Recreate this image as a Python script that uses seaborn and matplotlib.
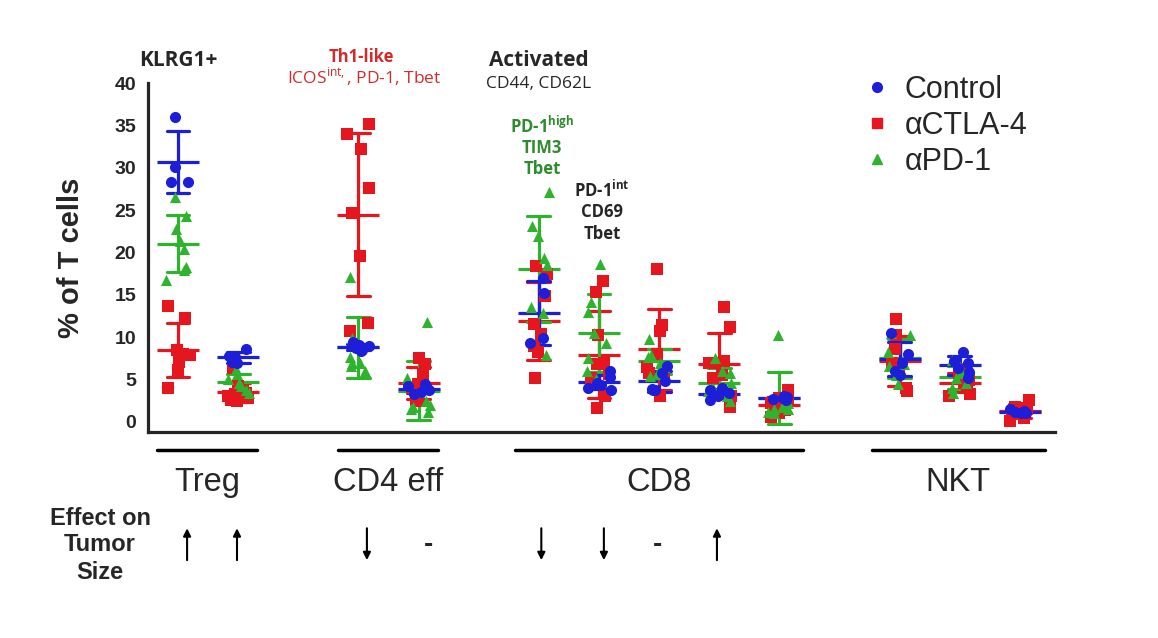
import numpy as np
import pandas as pd
import matplotlib
matplotlib.use("Agg")
import matplotlib.pyplot as plt
import matplotlib.transforms as mtransforms
from matplotlib.lines import Line2D
import seaborn as sns

# x axis columns, the gap columns stay empty
columns = ["Treg a", "Treg b", "gap1", "CD4 a", "CD4 b", "gap2",
           "CD8 a", "CD8 b", "CD8 c", "CD8 d", "CD8 e", "gap3",
           "NKT a", "NKT b", "NKT c"]

# % of T cells
control = {
    "Treg a": [36.0, 30.1, 28.3, 28.3],
    "Treg b": [8.6, 7.8, 7.7, 7.1, 7.0],
    "CD4 a": [9.4, 9.1, 9.0, 8.7, 8.5, 8.4],
    "CD4 b": [4.5, 4.2, 4.0, 3.8, 3.5, 3.3],
    "CD8 a": [17.0, 15.2, 9.9, 9.3],
    "CD8 b": [6.0, 5.3, 4.6, 4.4, 4.0, 3.8],
    "CD8 c": [6.6, 5.8, 4.8, 3.9, 3.8, 3.7],
    "CD8 d": [4.0, 3.7, 3.4, 3.2, 3.0, 2.6],
    "CD8 e": [3.0, 2.9, 2.8, 2.7, 2.6],
    "NKT a": [10.5, 8.0, 6.9, 6.0, 5.5],
    "NKT b": [8.3, 7.2, 7.0, 6.3, 5.9, 5.2],
    "NKT c": [1.5, 1.3, 1.2, 1.0, 1.0],
}
ctla4 = {
    "Treg a": [13.7, 12.3, 8.5, 8.0, 7.9, 7.1, 6.1, 4.0],
    "Treg b": [6.3, 4.2, 3.6, 3.4, 3.3, 3.1, 3.0, 2.8, 2.6, 2.4],
    "CD4 a": [35.2, 34.0, 32.2, 27.6, 24.7, 19.6, 11.7, 10.7],
    "CD4 b": [7.5, 6.8, 5.6, 4.5, 4.0, 3.4, 2.6, 2.5],
    "CD8 a": [18.4, 17.5, 14.9, 11.6, 10.4, 8.9, 8.3, 5.2],
    "CD8 b": [16.6, 15.3, 10.2, 7.0, 6.8, 5.6, 5.2, 3.1, 1.6],
    "CD8 c": [18.1, 11.4, 10.7, 8.0, 6.5, 5.8, 5.0, 3.0],
    "CD8 d": [13.6, 11.2, 7.2, 7.0, 6.9, 5.5, 5.2, 3.0, 1.8],
    "CD8 e": [3.8, 2.8, 2.5, 2.2, 2.0, 1.8, 1.4, 1.0, 0.6],
    "NKT a": [12.1, 10.2, 8.6, 7.0, 6.1, 5.8, 4.0, 3.6],
    "NKT b": [6.2, 5.8, 5.2, 4.9, 4.6, 4.0, 3.3, 3.0],
    "NKT c": [2.6, 1.8, 1.6, 1.5, 1.2, 0.9, 0.5, 0.1],
}
pd1 = {
    "Treg a": [26.5, 24.3, 22.8, 21.4, 20.4, 18.3, 17.9, 16.7],
    "Treg b": [6.2, 5.6, 5.0, 4.6, 4.2, 3.8, 3.4],
    "CD4 a": [17.1, 9.9, 9.0, 7.7, 7.0, 6.9, 6.6, 6.0],
    "CD4 b": [11.8, 5.2, 3.5, 2.5, 2.0, 1.8, 1.5, 1.2],
    "CD8 a": [27.1, 23.1, 21.9, 19.3, 18.5, 13.6, 12.8, 7.9],
    "CD8 b": [18.6, 14.1, 13.0, 10.5, 9.3, 7.5, 6.0, 5.0],
    "CD8 c": [9.8, 7.9, 7.7, 7.0, 6.5, 5.6, 5.4],
    "CD8 d": [7.5, 6.0, 5.8, 4.6, 4.0, 3.6, 3.0, 2.5],
    "CD8 e": [10.3, 3.0, 2.2, 1.8, 1.5, 1.2, 1.0, 1.5],
    "NKT a": [10.5, 10.2, 8.3, 6.8, 6.6, 5.5, 4.5],
    "NKT b": [7.3, 6.5, 5.8, 5.2, 4.6, 4.0, 3.4],
}

groups = ["Control", "αCTLA-4", "αPD-1"]
colors = {"Control": "#1c1ed8", "αCTLA-4": "#e5161e", "αPD-1": "#2fb32f"}
markers = {"Control": "o", "αCTLA-4": "s", "αPD-1": "^"}

# cell types under the axis and the effect on tumor size
cell_types = ["Treg", "CD4 eff", "CD8", "NKT"]
effects = ["up", "up", "", "down", "none", "", "down", "down", "none", "up"]

rows = []
for grp, d in zip(groups, [control, ctla4, pd1]):
    for col, vals in d.items():
        for v in vals:
            rows.append((col, grp, v))
df = pd.DataFrame(rows, columns=["cells", "group", "pct"])

sns.set_style("white")
plt.rcParams["font.family"] = ["Liberation Sans", "DejaVu Sans"]

fig = plt.figure(figsize=(11.58, 6.38), dpi=100)
ax = fig.add_axes([0.1278, 0.3229, 0.7832, 0.547])

np.random.seed(7)
for grp in ["αCTLA-4", "αPD-1", "Control"]:
    sub = df[df.group == grp]
    sns.stripplot(data=sub, x="cells", y="pct", order=columns, color=colors[grp],
                  marker=markers[grp], size=8, jitter=0.2, linewidth=0, ax=ax)
for grp in ["αCTLA-4", "αPD-1", "Control"]:
    sub = df[df.group == grp]
    sns.pointplot(data=sub, x="cells", y="pct", order=columns, estimator="mean",
                  errorbar="sd", color=colors[grp], marker="_", markersize=30,
                  markeredgewidth=2.3, linestyle="none", capsize=0.38,
                  err_kws={"linewidth": 2.3}, ax=ax)

ax.set_xlim(-0.5, 14.58)
ax.set_ylim(-1.2, 40)
ax.set_yticks(range(0, 41, 5))
ax.set_xticks(range(len(columns)))
ax.set_xticklabels([])
ax.set_xlabel("")
ax.set_ylabel("% of T cells", fontsize=21, fontweight="bold")
ax.yaxis.set_label_coords(-0.07, 0.5)
sns.despine(ax=ax)
for s in ["left", "bottom"]:
    ax.spines[s].set_linewidth(2.3)
ax.tick_params(axis="y", length=5, width=2, labelsize=14)
ax.tick_params(axis="x", length=8, width=2.3)
for lab in ax.get_yticklabels():
    lab.set_fontweight("bold")

# annotations above the columns
hum = ["Open Sans", "DejaVu Sans"]
ax.text(0, 42.7, "KLRG1+", ha="center", va="center", fontsize=15, fontweight="bold", family=hum)
ax.text(3.05, 43.1, "Th1-like", ha="center", va="center", fontsize=12, fontweight="bold",
        color="#d42a2a", family=hum)
ax.text(3.1, 40.7, r"ICOS$^{\mathregular{int,}}$, PD-1, Tbet", ha="center", va="center",
        fontsize=12.5, color="#d42a2a", family=hum)
ax.text(6.0, 42.7, "Activated", ha="center", va="center", fontsize=15, fontweight="bold", family=hum)
ax.text(6.0, 39.9, "CD44, CD62L", ha="center", va="center", fontsize=12.5, family=hum)
green_txt = "#2e8b2e"
ax.text(6.05, 34.9, r"PD-1$^{\mathregular{high}}$", ha="center", va="center", fontsize=12,
        fontweight="bold", color=green_txt, family=hum)
ax.text(6.05, 32.3, "TIM3", ha="center", va="center", fontsize=12, fontweight="bold",
        color=green_txt, family=hum)
ax.text(6.05, 29.9, "Tbet", ha="center", va="center", fontsize=12, fontweight="bold",
        color=green_txt, family=hum)
ax.text(7.05, 27.4, r"PD-1$^{\mathregular{int}}$", ha="center", va="center", fontsize=12,
        fontweight="bold", family=hum)
ax.text(7.05, 24.8, "CD69", ha="center", va="center", fontsize=12, fontweight="bold", family=hum)
ax.text(7.05, 22.2, "Tbet", ha="center", va="center", fontsize=12, fontweight="bold", family=hum)

handles = [Line2D([], [], marker=markers[g], color=colors[g], linestyle="", markersize=7)
           for g in groups]
fig.legend(handles, groups, loc="upper left", bbox_to_anchor=(0.718, 0.926), frameon=False,
           fontsize=22, handletextpad=0.3, labelspacing=0.2, handlelength=1.2)

# cell type brackets and labels under the axis
trans = mtransforms.blended_transform_factory(ax.transData, fig.transFigure)
spans = [(-0.35, 1.31), (2.66, 4.32), (5.6, 10.39), (11.54, 14.42)]
label_x = [0.48, 3.49, 8.0, 12.97]
for (x0, x1), lx, name in zip(spans, label_x, cell_types):
    ax.plot([x0, x1], [0.2947, 0.2947], color="black", lw=2.5, transform=trans, clip_on=False)
    ax.text(lx, 0.243, name, ha="center", va="center", fontsize=23.5, transform=trans)

fig.text(0.0864, 0.188, "Effect on", ha="center", va="center", fontsize=17, fontweight="bold")
fig.text(0.0864, 0.146, "Tumor", ha="center", va="center", fontsize=17, fontweight="bold")
fig.text(0.0864, 0.1034, "Size", ha="center", va="center", fontsize=17, fontweight="bold")

effect_x = [0.15, 0.98, 2.0, 3.14, 4.16, 5.0, 6.04, 7.08, 7.98, 8.96]
for x, eff in zip(effect_x, effects):
    if eff == "up":
        ax.annotate("", xy=(x, 0.172), xytext=(x, 0.122), xycoords=trans, textcoords=trans,
                    arrowprops=dict(arrowstyle="-|>", color="black", lw=1.5,
                                    mutation_scale=11, shrinkA=0, shrinkB=0))
    elif eff == "down":
        ax.annotate("", xy=(x, 0.122), xytext=(x, 0.172), xycoords=trans, textcoords=trans,
                    arrowprops=dict(arrowstyle="-|>", color="black", lw=1.5,
                                    mutation_scale=11, shrinkA=0, shrinkB=0))
    elif eff == "none":
        ax.text(x, 0.145, "-", ha="center", va="center", fontsize=20, fontweight="bold",
                transform=trans)

fig.savefig("out.png", dpi=100)
